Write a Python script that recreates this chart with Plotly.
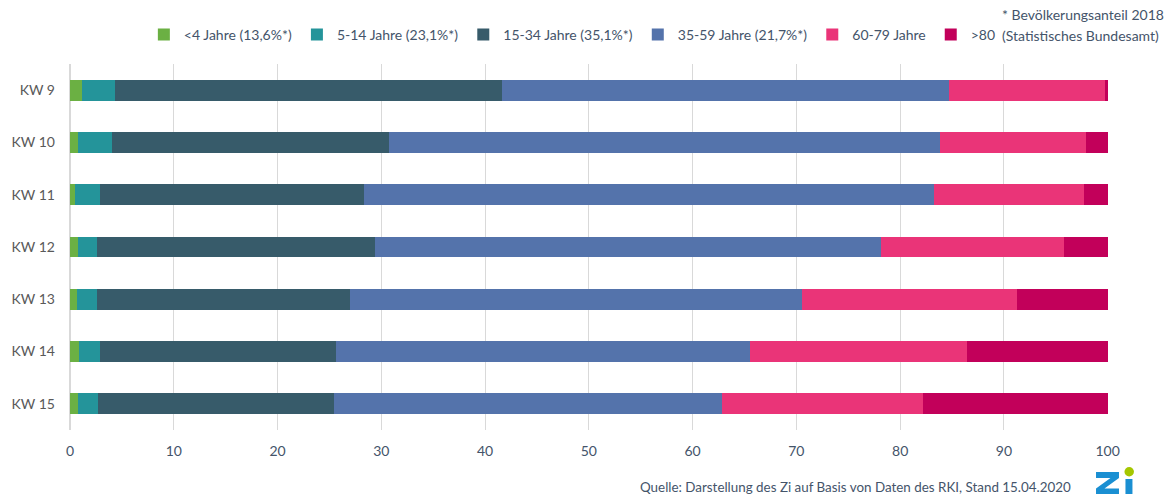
import plotly.graph_objects as go

# Calendar weeks (top to bottom) and share of cases per age group in percent
weeks = ["KW 9", "KW 10", "KW 11", "KW 12", "KW 13", "KW 14", "KW 15"]

age_groups = [
    "<4 Jahre (13,6%*)",
    "5-14 Jahre (23,1%*)",
    "15-34 Jahre (35,1%*)",
    "35-59 Jahre (21,7%*)",
    "60-79 Jahre",
    ">80",
]

share_0_4 = [1.2, 0.8, 0.5, 0.8, 0.7, 0.9, 0.8]
share_5_14 = [3.1, 3.2, 2.4, 1.8, 1.9, 2.0, 1.9]
share_15_34 = [37.3, 26.7, 25.4, 26.8, 24.4, 22.7, 22.7]
share_35_59 = [43.1, 53.1, 55.0, 48.8, 43.5, 39.9, 37.4]
share_60_79 = [15.05, 14.1, 14.4, 17.6, 20.8, 20.9, 19.4]
share_80plus = [0.25, 2.1, 2.3, 4.2, 8.7, 13.6, 17.8]

series = [share_0_4, share_5_14, share_15_34, share_35_59, share_60_79, share_80plus]
colors = ["#6BB043", "#24949A", "#375B6A", "#5473AB", "#EA3478", "#C2005A"]

x_ticks = [0, 10, 20, 30, 40, 50, 60, 70, 80, 90, 100]

FONT = "Lato, 'Open Sans', sans-serif"
TEXT_COLOR = "#44546A"
LOGO_BLUE = "#1A8FD2"
LOGO_GREEN = "#A5C700"

# plot area in pixels
L, R, T, B = 68, 57, 64, 65
PW, PH = 1165 - L - R, 495 - T - B


def px_x(x):
    return (x - L) / PW


def px_y(y):
    return (495 - B - y) / PH


fig = go.Figure()
for name, values, color in zip(age_groups, series, colors):
    fig.add_trace(go.Bar(
        y=weeks,
        x=values,
        name=name,
        orientation="h",
        marker=dict(color=color, line=dict(width=0)),
    ))

fig.update_layout(
    width=1165,
    height=495,
    barmode="stack",
    bargap=0.6,
    plot_bgcolor="white",
    paper_bgcolor="white",
    margin=dict(l=L, r=R, t=T, b=B),
    font=dict(family=FONT, size=14, color=TEXT_COLOR),
    legend=dict(
        orientation="h",
        x=px_x(142),
        xanchor="left",
        y=px_y(35),
        yanchor="middle",
        font=dict(family=FONT, size=14, color=TEXT_COLOR),
        itemwidth=30,
        traceorder="normal",
        bgcolor="rgba(0,0,0,0)",
    ),
    xaxis=dict(
        range=[0, 100.03],
        tickvals=x_ticks,
        ticktext=[str(v) for v in x_ticks],
        showgrid=True,
        gridcolor="#D9D9D9",
        gridwidth=1,
        zeroline=True,
        zerolinecolor="#D9D9D9",
        showline=False,
        tickfont=dict(family=FONT, size=14, color=TEXT_COLOR),
        ticklabelstandoff=11,
        fixedrange=True,
    ),
    yaxis=dict(
        categoryorder="array",
        categoryarray=weeks[::-1],
        showgrid=False,
        zeroline=False,
        showline=False,
        tickfont=dict(family=FONT, size=14, color="#595959"),
        ticklabelstandoff=14,
        fixedrange=True,
    ),
    showlegend=True,
)

# Footnote on population shares (two lines)
for text, yc in [("* Bevölkerungsanteil 2018", 15), ("(Statistisches Bundesamt)", 36)]:
    fig.add_annotation(
        xref="paper", yref="paper", x=px_x(1000), y=px_y(yc),
        xanchor="left", yanchor="middle", showarrow=False,
        text=text,
        font=dict(family=FONT, size=14, color=TEXT_COLOR),
    )

# Source line
fig.add_annotation(
    xref="paper", yref="paper", x=px_x(1073), y=px_y(487),
    xanchor="right", yanchor="middle", showarrow=False,
    text="Quelle: Darstellung des Zi auf Basis von Daten des RKI, Stand 15.04.2020",
    font=dict(family=FONT, size=13.4, color=TEXT_COLOR),
)

# Zi logo drawn as shapes: blue "Z", blue stem of the "i", green dot
z_outline = [
    (1096, 472), (1119, 472), (1119, 478), (1104.5, 488.5), (1119, 488.5),
    (1119, 494), (1096, 494), (1096, 488.5), (1110.5, 478), (1096, 478),
]
z_path = "M " + " L ".join(f"{px_x(x):.5f},{px_y(y):.5f}" for x, y in z_outline) + " Z"
fig.add_shape(type="path", xref="paper", yref="paper", path=z_path,
              fillcolor=LOGO_BLUE, line=dict(width=0))
fig.add_shape(type="rect", xref="paper", yref="paper",
              x0=px_x(1125.5), x1=px_x(1132.5), y0=px_y(494), y1=px_y(479),
              fillcolor=LOGO_BLUE, line=dict(width=0))
fig.add_shape(type="circle", xref="paper", yref="paper",
              x0=px_x(1124.5), x1=px_x(1134), y0=px_y(476.5), y1=px_y(467),
              fillcolor=LOGO_GREEN, line=dict(width=0))

fig.write_html("out.html")
